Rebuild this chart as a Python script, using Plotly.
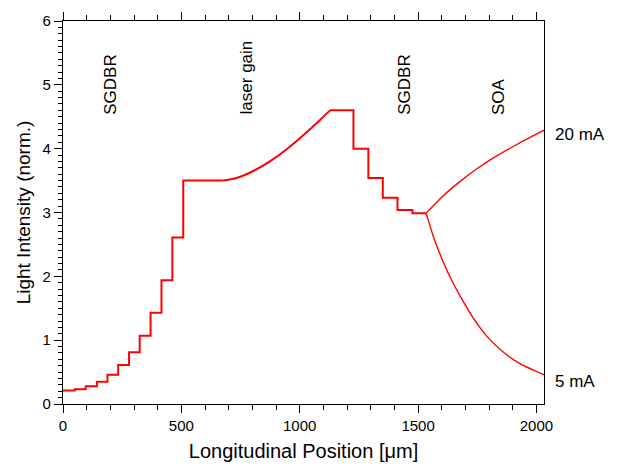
import plotly.graph_objects as go

# ---- data ----
left_step_x = [0, 50, 96, 143, 188, 233, 279, 324, 370, 416, 462, 508, 677]
left_levels = [0.21, 0.23, 0.28, 0.35, 0.46, 0.61, 0.81, 1.07, 1.43, 1.94, 2.61, 3.50, 3.50]

gain_x = [677, 733, 804, 874, 945, 1015, 1086, 1128]
gain_y = [3.50, 3.54, 3.65, 3.80, 3.99, 4.21, 4.45, 4.60]

right_step_x = [1128, 1227, 1290, 1351, 1413, 1476, 1534]
right_levels = [4.60, 4.00, 3.54, 3.23, 3.04, 2.99, 2.99]

soa20_x = [1534, 1600, 1675, 1750, 1825, 1900, 1975, 2032]
soa20_y = [2.99, 3.24, 3.48, 3.69, 3.87, 4.03, 4.18, 4.29]

soa5_x = [1534, 1565, 1608, 1650, 1692, 1734, 1791, 1861, 1932, 2032]
soa5_y = [2.99, 2.62, 2.21, 1.88, 1.60, 1.34, 1.06, 0.81, 0.63, 0.46]

section_labels = ["SGDBR", "laser gain", "SGDBR", "SOA"]
section_x = [203, 776, 1445, 1837]
current_labels = ["20 mA", "5 mA"]
current_y = [4.22, 0.35]

RED = "#ff0000"
FONT = "Liberation Sans, Arial, sans-serif"

fig = go.Figure()
fig.add_trace(go.Scatter(x=left_step_x, y=left_levels, mode="lines",
                         line=dict(color=RED, width=2, shape="hv")))
fig.add_trace(go.Scatter(x=gain_x, y=gain_y, mode="lines",
                         line=dict(color=RED, width=2, shape="spline", smoothing=0.5)))
fig.add_trace(go.Scatter(x=right_step_x, y=right_levels, mode="lines",
                         line=dict(color=RED, width=2, shape="hv")))
fig.add_trace(go.Scatter(x=soa20_x, y=soa20_y, mode="lines",
                         line=dict(color=RED, width=1.4, shape="spline", smoothing=0.6)))
fig.add_trace(go.Scatter(x=soa5_x, y=soa5_y, mode="lines",
                         line=dict(color=RED, width=1.4, shape="spline", smoothing=0.6)))

for txt, xv in zip(section_labels, section_x):
    fig.add_annotation(x=xv, y=4.5, xref="x", yref="y", text=txt, textangle=-90,
                       showarrow=False, xanchor="center", yanchor="bottom",
                       font=dict(family=FONT, size=17, color="black"))

for txt, yv in zip(current_labels, current_y):
    fig.add_annotation(x=1, y=yv, xref="paper", yref="y", text=txt,
                       showarrow=False, xanchor="left", yanchor="middle", xshift=9,
                       font=dict(family=FONT, size=17, color="black"))

fig.update_layout(
    width=622, height=470,
    margin=dict(l=63, r=78, t=13, b=66),
    plot_bgcolor="white", paper_bgcolor="white",
    showlegend=False,
    font=dict(family=FONT, color="black", size=15),
)
fig.update_xaxes(
    range=[0, 2032], tickvals=[0, 500, 1000, 1500, 2000],
    ticks="outside", ticklen=8, tickwidth=1.3, tickcolor="black",
    showline=True, linewidth=1.3, linecolor="black", mirror="ticks",
    minor=dict(dtick=100, ticklen=5, ticks="outside", tickcolor="black", tickwidth=1.3),
    showgrid=False, zeroline=False,
    tickfont=dict(family=FONT, size=15),
    title=dict(text="Longitudinal Position [μm]", font=dict(family=FONT, size=20), standoff=10),
)
fig.update_yaxes(
    range=[0, 6], dtick=1,
    ticks="outside", ticklen=8, tickwidth=1.3, tickcolor="black",
    showline=True, linewidth=1.3, linecolor="black", mirror=True,
    minor=dict(dtick=0.1, ticklen=4, ticks="outside", tickcolor="black", tickwidth=1),
    showgrid=False, zeroline=False,
    tickfont=dict(family=FONT, size=15),
    title=dict(text="Light Intensity (norm.)", font=dict(family=FONT, size=19), standoff=6),
)

fig.write_html("out.html")
